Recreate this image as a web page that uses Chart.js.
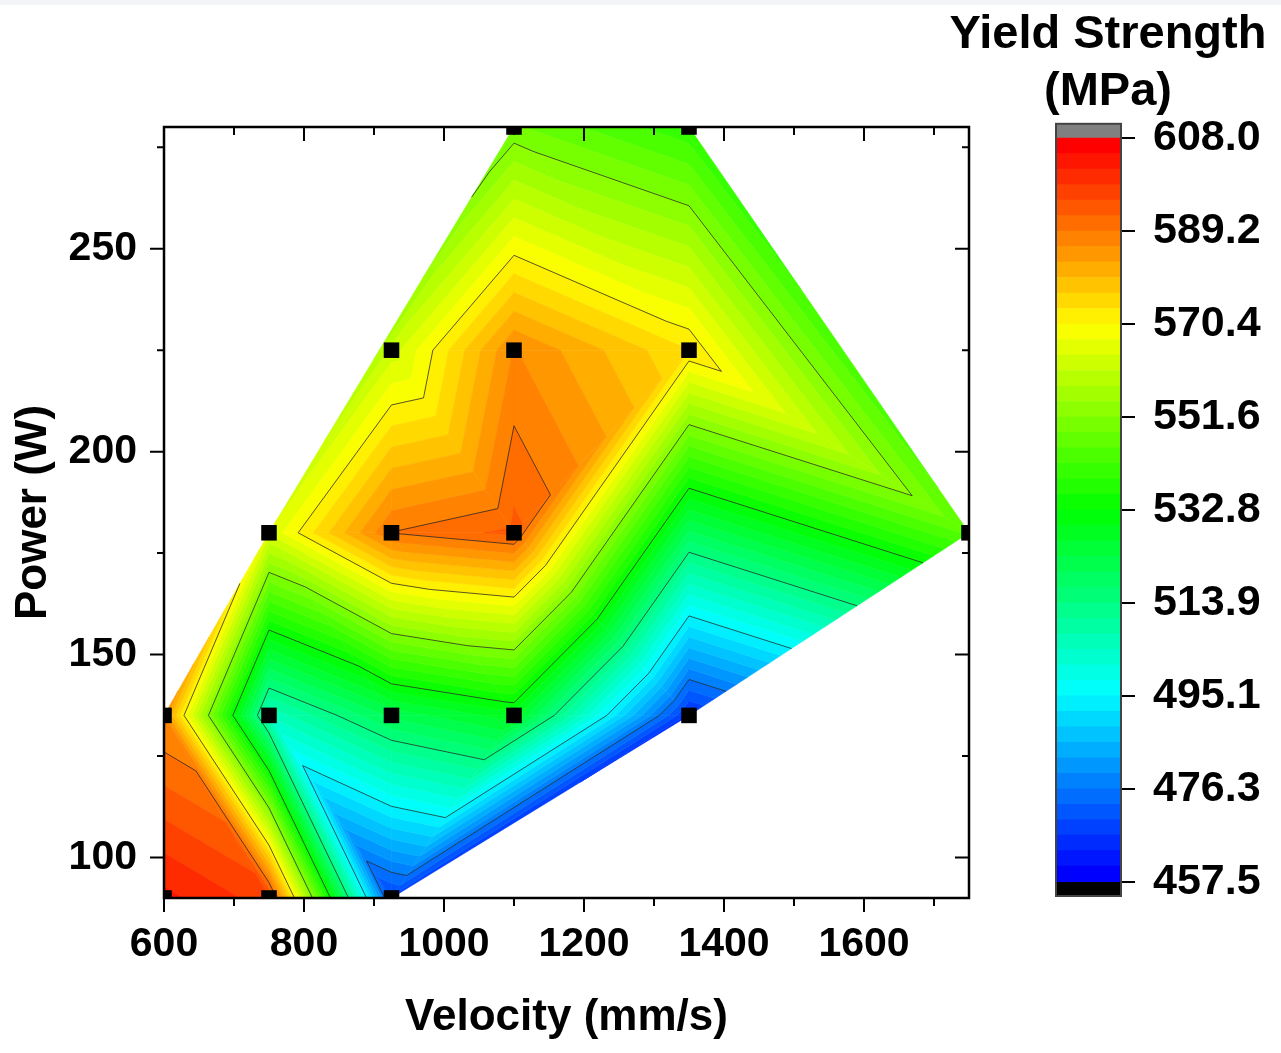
<!DOCTYPE html>
<html>
<head>
<meta charset="utf-8">
<title>Yield Strength contour</title>
<script src="https://cdn.jsdelivr.net/npm/chart.js@4.4.1/dist/chart.umd.min.js"></script>
<style>
  html, body { margin: 0; padding: 0; background: #fff; }
  body { width: 1281px; height: 1053px; position: relative; overflow: hidden; }
  #topStrip { position: absolute; left: 0; top: 0; width: 1281px; height: 5px; background: #f3f4f8; }
  canvas { position: absolute; top: 0; }
  #main { left: 0; }
  #bar { left: 935px; }
</style>
</head>
<body>
<div id="topStrip"></div>
<canvas id="main" width="990" height="1053"></canvas>
<canvas id="bar" width="346" height="1053"></canvas>
<script>
// ---------- DATA ----------
// measured points (velocity mm/s, power W) and their yield strength (MPa)
const velocity = [600, 750, 925, 600, 750, 925, 1100, 1350, 750, 925, 1100, 1750, 925, 1100, 1350, 1100, 1350];
const power    = [ 90,  90,  90, 135, 135, 135,  135,  135, 180, 180,  180,  180, 225,  225,  225,  280,  280];
const strength = [602.8, 597.0, 469.0, 585.8, 505.0, 521.0, 528.3, 465.7, 564.5, 589.3, 593.3, 546.0, 562.3, 586.3, 573.6, 548.9, 539.6];

// triangulation of the points above (indices), linear interpolation inside each
const mesh = [
  [0, 1, 3], [1, 4, 3], [1, 2, 4], [2, 5, 4], [4, 5, 8], [8, 5, 9], [3, 4, 8],
  [2, 6, 5], [2, 7, 6], [5, 6, 9], [9, 6, 10], [6, 7, 10], [10, 7, 14], [7, 11, 14],
  [14, 11, 16], [10, 14, 13], [9, 10, 12], [12, 10, 13], [8, 9, 12], [8, 12, 15],
  [12, 13, 15], [15, 13, 14], [15, 14, 16]
];

// axis ticks
const xMajor = [600, 800, 1000, 1200, 1400, 1600];
const xMinor = [700, 900, 1100, 1300, 1500, 1700];
const yMajor = [100, 150, 200, 250];
const yMinor = [125, 175, 225, 275];

// colour scale
const cbTicks  = [457.5, 476.3, 495.1, 513.9, 532.8, 551.6, 570.4, 589.2, 608.0];
const cbLabels = ['457.5', '476.3', '495.1', '513.9', '532.8', '551.6', '570.4', '589.2', '608.0'];
const lineLevels = cbTicks.slice(1, -1);
const zMin = 457.5, zMax = 608.0, nBands = 48;
const bandStep = (zMax - zMin) / nBands;

const FONT = '"Liberation Sans", Arial, Helvetica, sans-serif';

// ---------- COLOUR MAP ----------
const stops = [[0, 0, 255], [0, 255, 255], [0, 255, 0], [255, 255, 0], [255, 0, 0]];
function cmap(f) {
  f = Math.min(1, Math.max(0, f)) * (stops.length - 1);
  const i = Math.min(stops.length - 2, Math.floor(f));
  const t = f - i;
  const c = stops[i].map((v, k) => Math.round(v + t * (stops[i + 1][k] - v)));
  return `rgb(${c[0]},${c[1]},${c[2]})`;
}
const bandColor = k => cmap(k / (nBands - 1));

// ---------- CONTOUR HELPERS ----------
function clipAt(poly, level, keepAbove) {
  const out = [];
  for (let i = 0; i < poly.length; i++) {
    const a = poly[i], b = poly[(i + 1) % poly.length];
    const ina = keepAbove ? a.z >= level : a.z <= level;
    const inb = keepAbove ? b.z >= level : b.z <= level;
    if (ina) out.push(a);
    if (ina !== inb) {
      const t = (level - a.z) / (b.z - a.z);
      out.push({ x: a.x + t * (b.x - a.x), y: a.y + t * (b.y - a.y), z: level });
    }
  }
  return out;
}

function crossing(tri, level) {
  const pts = [];
  for (let i = 0; i < 3; i++) {
    const a = tri[i], b = tri[(i + 1) % 3];
    if ((a.z - level) * (b.z - level) < 0) {
      const t = (level - a.z) / (b.z - a.z);
      pts.push([a.x + t * (b.x - a.x), a.y + t * (b.y - a.y)]);
    }
  }
  return pts;
}

// filled contour + contour lines, drawn under the scatter squares
const contourPlugin = {
  id: 'contour',
  beforeDatasetsDraw(chart) {
    const { ctx, chartArea: a, scales: { x, y } } = chart;
    const nodes = velocity.map((v, i) => ({
      x: x.getPixelForValue(v), y: y.getPixelForValue(power[i]), z: strength[i]
    }));
    ctx.save();
    ctx.beginPath();
    ctx.rect(a.left, a.top, a.right - a.left, a.bottom - a.top);
    ctx.clip();
    ctx.lineJoin = 'round';
    mesh.forEach(idx => {
      const tri = idx.map(i => nodes[i]);
      for (let k = 0; k < nBands; k++) {
        const lo = zMin + k * bandStep, hi = lo + bandStep;
        let poly = clipAt(tri, lo, true);
        if (poly.length < 3) continue;
        poly = clipAt(poly, hi, false);
        if (poly.length < 3) continue;
        ctx.beginPath();
        poly.forEach((p, j) => j ? ctx.lineTo(p.x, p.y) : ctx.moveTo(p.x, p.y));
        ctx.closePath();
        ctx.fillStyle = bandColor(k);
        ctx.strokeStyle = bandColor(k);
        ctx.lineWidth = 0.6;
        ctx.fill();
        ctx.stroke();
      }
    });
    ctx.strokeStyle = 'rgba(35,35,35,0.75)';
    ctx.lineWidth = 1;
    ctx.beginPath();
    mesh.forEach(idx => {
      const tri = idx.map(i => nodes[i]);
      lineLevels.forEach(L => {
        const s = crossing(tri, L);
        if (s.length === 2) { ctx.moveTo(s[0][0], s[0][1]); ctx.lineTo(s[1][0], s[1][1]); }
      });
    });
    ctx.stroke();
    ctx.restore();
  }
};

// frame + major/minor ticks on all four sides
const frameTicks = {
  id: 'frameTicks',
  afterDraw(chart) {
    const { ctx, chartArea: a, scales: { x, y } } = chart;
    ctx.save();
    ctx.strokeStyle = '#000';
    ctx.lineWidth = 2;
    ctx.beginPath();
    const seg = (x1, y1, x2, y2) => { ctx.moveTo(x1, y1); ctx.lineTo(x2, y2); };
    const xt = (vals, len) => vals.forEach(v => {
      const px = x.getPixelForValue(v);
      seg(px, a.bottom, px, a.bottom + len);
      seg(px, a.top, px, a.top + len);
    });
    const yt = (vals, len) => vals.forEach(v => {
      const py = y.getPixelForValue(v);
      seg(a.left - len, py, a.left, py);
      seg(a.right - len, py, a.right, py);
    });
    xt(xMajor, 14); xt(xMinor, 8);
    yt(yMajor, 14); yt(yMinor, 7);
    ctx.stroke();
    ctx.lineWidth = 2.5;
    ctx.strokeRect(a.left, a.top, a.right - a.left, a.bottom - a.top);
    ctx.restore();
  }
};

// ---------- MAIN CHART ----------
new Chart(document.getElementById('main'), {
  type: 'scatter',
  data: {
    datasets: [{
      data: velocity.map((v, i) => ({ x: v, y: power[i] })),
      pointStyle: 'rect',
      pointRadius: 11,
      pointHoverRadius: 11,
      backgroundColor: '#000',
      borderWidth: 0,
      clip: 0
    }]
  },
  options: {
    responsive: false,
    animation: false,
    devicePixelRatio: 1,
    layout: { padding: { top: 127, right: 21, left: 0, bottom: 0 } },
    plugins: { legend: { display: false }, tooltip: { enabled: false } },
    scales: {
      x: {
        type: 'linear', min: 600, max: 1750,
        afterBuildTicks: s => { s.ticks = xMajor.map(v => ({ value: v })); },
        afterFit: s => { s.height = 155; },
        grid: { display: false, drawTicks: false },
        border: { display: false },
        ticks: {
          color: '#000', padding: 22, font: { family: FONT, size: 41, weight: 'bold' },
          callback: v => String(v)
        },
        title: {
          display: true, text: 'Velocity (mm/s)', color: '#000',
          font: { family: FONT, size: 44, weight: 'bold' }, padding: { top: 0, bottom: 9 }
        }
      },
      y: {
        type: 'linear', min: 90, max: 280,
        afterBuildTicks: s => { s.ticks = yMajor.map(v => ({ value: v })); },
        afterFit: s => { s.width = 164; },
        grid: { display: false, drawTicks: false },
        border: { display: false },
        ticks: {
          color: '#000', padding: 27, font: { family: FONT, size: 41, weight: 'bold' },
          callback: v => String(v)
        },
        title: {
          display: true, text: 'Power (W)', color: '#000',
          font: { family: FONT, size: 44, weight: 'bold' }, padding: { top: 7, bottom: 0 }
        }
      }
    }
  },
  plugins: [contourPlugin, frameTicks]
});

// ---------- COLOUR BAR ----------
const overRange = 2.9;
const barSets = [];
for (let k = 0; k < nBands; k++) {
  barSets.push({ data: [[zMin + k * bandStep, zMin + (k + 1) * bandStep]], backgroundColor: bandColor(k) });
}
barSets.push({ data: [[zMax, zMax + overRange]], backgroundColor: '#808080' });
barSets.push({ data: [[zMin - overRange, zMin]], backgroundColor: '#000' });
barSets.forEach(d => Object.assign(d, {
  grouped: false, barPercentage: 1, categoryPercentage: 1, borderWidth: 0, yAxisID: 'y'
}));

const barFrame = {
  id: 'barFrame',
  afterDatasetsDraw(chart) {
    const { ctx, chartArea: a } = chart;
    ctx.save();
    ctx.strokeStyle = '#444';
    ctx.lineWidth = 2;
    ctx.strokeRect(a.left, a.top, a.right - a.left, a.bottom - a.top);
    ctx.restore();
  }
};

new Chart(document.getElementById('bar'), {
  type: 'bar',
  data: { labels: [''], datasets: barSets },
  options: {
    responsive: false,
    animation: false,
    devicePixelRatio: 1,
    layout: { padding: { top: 0, left: 0, right: 0, bottom: 157 } },
    plugins: {
      legend: { display: false },
      tooltip: { enabled: false },
      title: {
        display: true, text: ['Yield Strength', '(MPa)'], color: '#000',
        font: { family: FONT, size: 47, weight: 'bold', lineHeight: 1.2 },
        padding: { top: 7, bottom: 4 }
      }
    },
    scales: {
      x: { display: false },
      y: {
        position: 'right',
        min: zMin - overRange, max: zMax + overRange,
        afterBuildTicks: s => { s.ticks = cbTicks.map(v => ({ value: v })); },
        afterFit: s => { s.width = 160; },
        grid: { drawOnChartArea: false, tickLength: 14, color: '#000', lineWidth: 2 },
        border: { display: false },
        ticks: {
          color: '#000', padding: 18,
          font: { family: FONT, size: 43, weight: 'bold' },
          callback: (v, i) => cbLabels[i]
        }
      },
      // empty spacer on the left so the title centres over the bar and its labels
      yl: {
        position: 'left',
        min: zMin - overRange, max: zMax + overRange,
        afterFit: s => { s.width = 121; },
        grid: { display: false, drawTicks: false },
        border: { display: false },
        ticks: { display: false }
      }
    }
  },
  plugins: [barFrame]
});
</script>
</body>
</html>
